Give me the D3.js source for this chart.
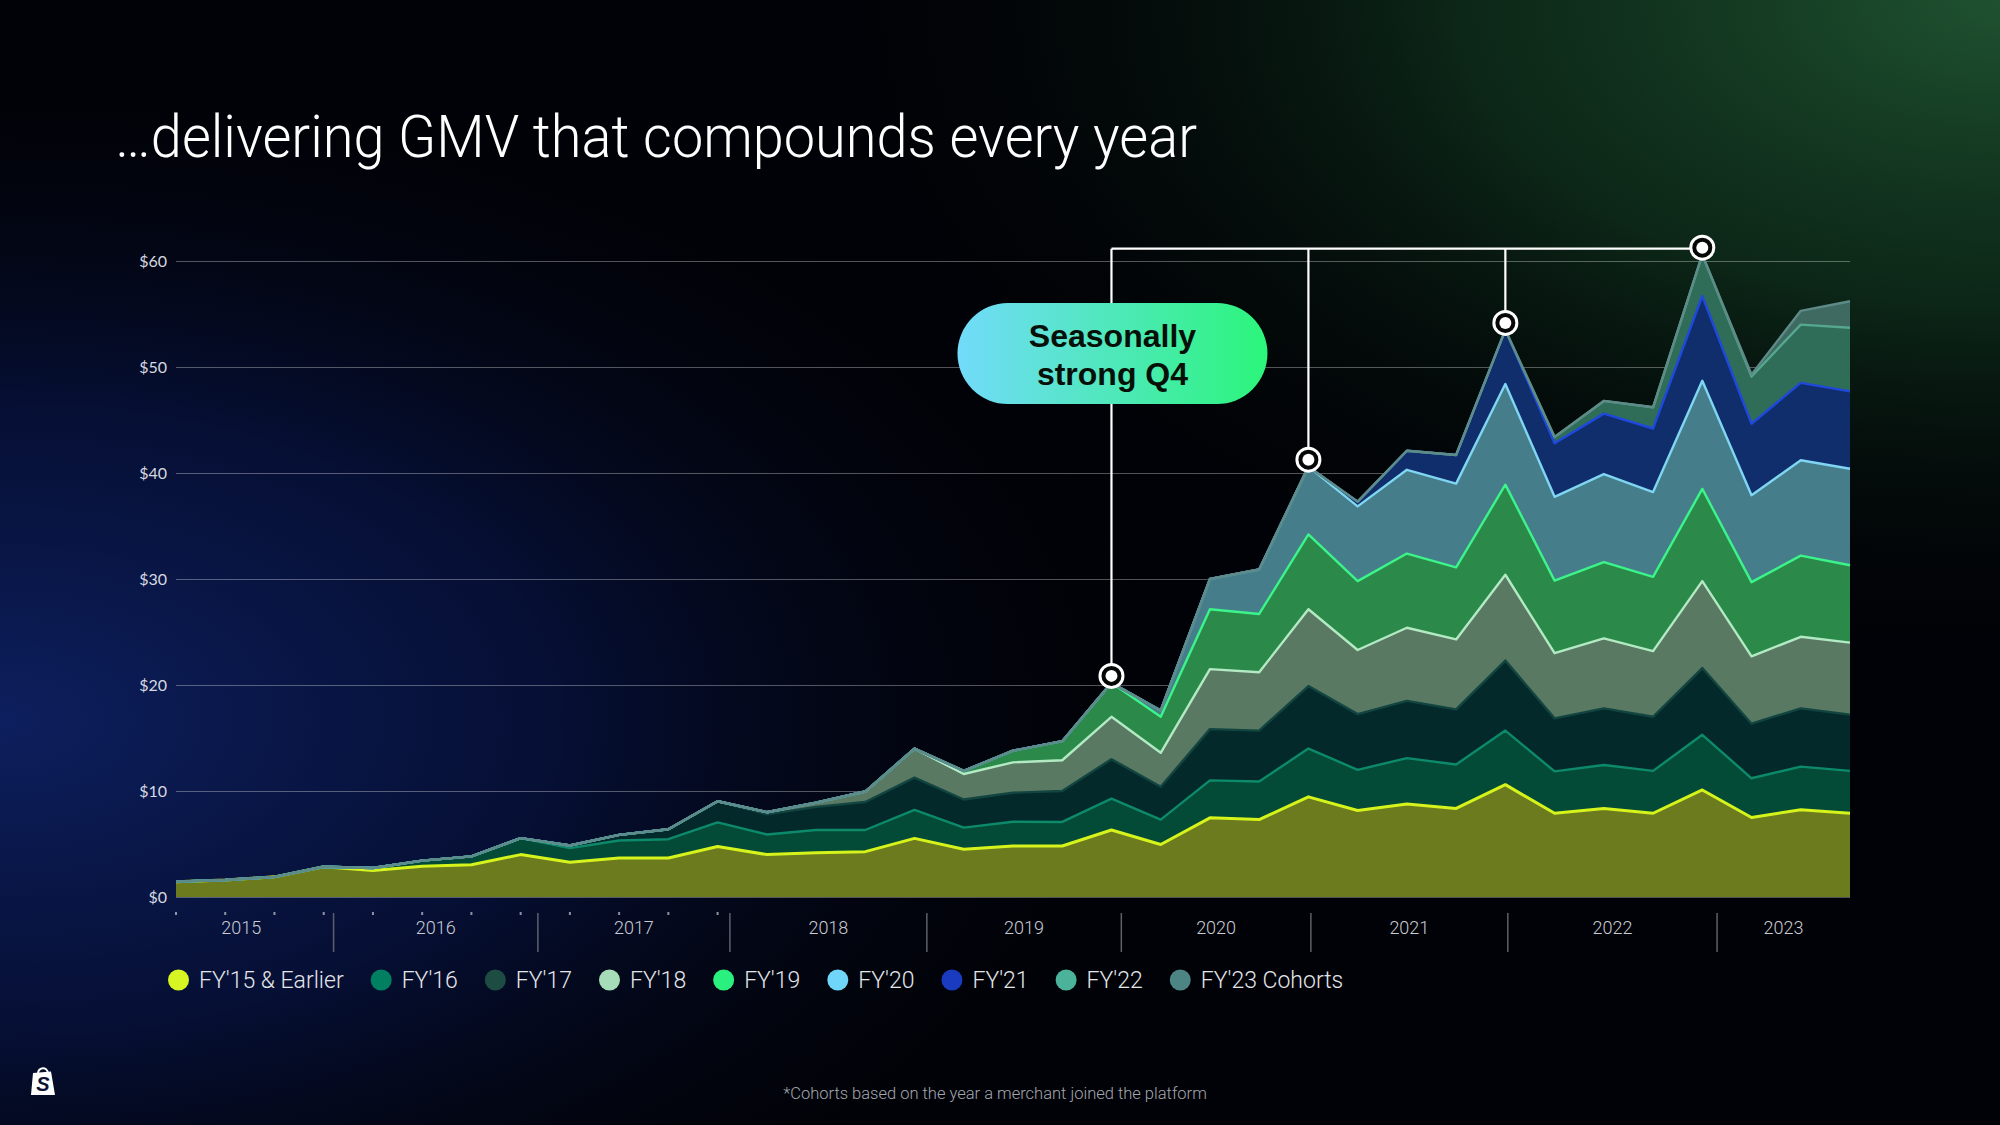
<!DOCTYPE html>
<html><head><meta charset="utf-8">
<script src="https://cdn.jsdelivr.net/npm/d3@7"></script>
<style>html,body{margin:0;padding:0;background:#000;}svg{display:block}</style>
</head><body>
<svg id="c" width="2000" height="1125"></svg>
<script>
// ---------- DATA ----------
const quarters = ["Q1 2015","Q2 2015","Q3 2015","Q4 2015","Q1 2016","Q2 2016","Q3 2016","Q4 2016",
  "Q1 2017","Q2 2017","Q3 2017","Q4 2017","Q1 2018","Q2 2018","Q3 2018","Q4 2018",
  "Q1 2019","Q2 2019","Q3 2019","Q4 2019","Q1 2020","Q2 2020","Q3 2020","Q4 2020",
  "Q1 2021","Q2 2021","Q3 2021","Q4 2021","Q1 2022","Q2 2022","Q3 2022","Q4 2022",
  "Q1 2023","Q2 2023","Q3 2023"];
const seriesNames = ["FY'15 & Earlier","FY'16","FY'17","FY'18","FY'19","FY'20","FY'21","FY'22","FY'23 Cohorts"];
const fy15 = [1.45,1.60,1.90,2.85,2.50,2.90,3.05,4.00,3.27,3.68,3.68,4.77,4.00,4.18,4.28,5.53,4.50,4.81,4.81,6.32,4.95,7.47,7.30,9.45,8.16,8.77,8.36,10.6,7.90,8.36,7.90,10.1,7.50,8.24,7.90];
const fy16 = [0,0,0,0,0.24,0.53,0.78,1.55,1.34,1.65,1.77,2.27,1.90,2.14,2.04,2.68,2.04,2.29,2.27,2.96,2.35,3.53,3.60,4.55,3.84,4.33,4.14,5.10,3.95,4.09,4.00,5.20,3.70,4.06,4.00];
const fy17 = [0,0,0,0,0,0,0,0,0.25,0.53,0.94,1.99,1.90,2.18,2.64,3.05,2.66,2.74,2.92,3.72,3.10,4.84,4.80,5.90,5.25,5.40,5.20,6.60,5.00,5.35,5.10,6.30,5.15,5.50,5.30];
const fy18 = [0,0,0,0,0,0,0,0,0,0,0,0,0.20,0.40,0.99,2.74,2.40,2.86,2.90,4.00,3.20,5.66,5.50,7.25,6.05,6.90,6.60,8.10,6.15,6.60,6.20,8.20,6.35,6.75,6.80];
const fy19 = [0,0,0,0,0,0,0,0,0,0,0,0,0,0,0,0,0.30,1.10,1.80,3.20,3.40,5.65,5.50,7.05,6.50,7.00,6.80,8.50,6.85,7.20,7.00,8.70,7.00,7.65,7.30];
const fy20 = [0,0,0,0,0,0,0,0,0,0,0,0,0,0,0,0,0,0,0,0,0.60,2.85,4.20,6.40,7.05,7.90,7.90,9.50,7.90,8.30,8.00,10.2,8.20,9.00,9.10];
const fy21 = [0,0,0,0,0,0,0,0,0,0,0,0,0,0,0,0,0,0,0,0,0,0,0,0,0.45,1.80,2.70,5.10,5.05,5.70,6.00,8.00,6.75,7.30,7.30];
const fy22 = [0,0,0,0,0,0,0,0,0,0,0,0,0,0,0,0,0,0,0,0,0,0,0,0,0,0,0,0,0.60,1.20,2.00,3.90,4.45,5.50,6.00];
const fy23 = [0,0,0,0,0,0,0,0,0,0,0,0,0,0,0,0,0,0,0,0,0,0,0,0,0,0,0,0,0,0,0,0,0.20,1.30,2.50];
const yTicks = [0,10,20,30,40,50,60];
const years = ["2015","2016","2017","2018","2019","2020","2021","2022","2023"];
// year boundaries, in quarter-index units along the axis
const yearBounds = [-0.55,3.2,7.35,11.25,15.25,19.2,23.05,27.05,31.3,34];
const peakQuarters = ["Q4 2019","Q4 2020","Q4 2021","Q4 2022"];
const calloutLines = ["Seasonally","strong Q4"];
const titleText = "\u2026delivering GMV that compounds every year";
const footnoteText = "*Cohorts based on the year a merchant joined the platform";

// ---------- STYLES ----------
const fills   = ["#6b7b1e","#034b36","#03292a","#597963","#2b8a4a","#457e8a","#102d6c","#2f6d58","#3f6a61"];
const strokes = ["#d6f41c","#0c8a6a","#134540","#b3eac4","#3cf48a","#7fd5f2","#1f48dc","#55a78f","#5e8a87"];
const dots    = ["#d7f523","#008060","#1d4d42","#a6dcb8","#29f07e","#6fd6fa","#1a3bbf","#4ab39a","#4d8585"];

const W = 2000, H = 1125;
const svg = d3.select("#c");
const defs = svg.append("defs");

// background
function radial(id, cx, cy, r, stops){
  const g = defs.append("radialGradient").attr("id",id).attr("cx",cx).attr("cy",cy).attr("r",r);
  stops.forEach(s=>g.append("stop").attr("offset",s[0]).attr("stop-color",s[1]).attr("stop-opacity",s[2]));
}
radial("blueGlow",0,0.64,0.62,[[0,"#0d1f5e",1],[0.45,"#081548",0.7],[1,"#000",0]]);
radial("greenGlow",1,0,0.6,[[0,"#1f5230",1],[0.45,"#123a20",0.65],[1,"#000",0]]);
svg.append("rect").attr("width",W).attr("height",H).attr("fill","#010207");
svg.append("rect").attr("width",W).attr("height",H).attr("fill","url(#blueGlow)");
svg.append("rect").attr("width",W).attr("height",H).attr("fill","url(#greenGlow)");

// title
svg.append("text").attr("x",115).attr("y",157).text(titleText)
  .attr("fill","#fff").attr("font-family","Roboto, 'Liberation Sans', sans-serif")
  .attr("font-weight",300).attr("font-size",59)
  .attr("textLength",1082).attr("lengthAdjust","spacingAndGlyphs");

// scales
const x = d3.scalePoint().domain(quarters).range([176,1850]);
const xi = d3.scaleLinear().domain([0,quarters.length-1]).range(x.range());
const y = d3.scaleLinear().domain([0,60]).range([897,261]);

// gridlines + y labels
const yAxis = d3.axisLeft(y).tickValues(yTicks).tickFormat(d=>"$"+d)
  .tickSizeInner(-(1850-176)).tickSizeOuter(0).tickPadding(9);
const ya = svg.append("g").attr("transform","translate(176,0)").call(yAxis);
ya.select(".domain").remove();
ya.selectAll(".tick line").attr("stroke","rgba(255,255,255,0.32)").attr("stroke-width",1);
ya.selectAll(".tick text").attr("fill","#d6d9e0").attr("font-family","Lato, 'Open Sans', sans-serif")
  .attr("font-size",16).attr("x",-9);

// stacked data
const table = quarters.map((q,i)=>{
  const row = {q};
  [fy15,fy16,fy17,fy18,fy19,fy20,fy21,fy22,fy23].forEach((arr,k)=>row[seriesNames[k]]=arr[i]);
  return row;
});
const stacked = d3.stack().keys(seriesNames)(table);
const area = d3.area().x(d=>x(d.data.q)).y0(d=>y(d[0])).y1(d=>y(d[1]));
const line = d3.line().x(d=>x(d.data.q)).y(d=>y(d[1]));

const gA = svg.append("g");
gA.selectAll("path").data(stacked).join("path").attr("d",area).attr("fill",(d,i)=>fills[i]);
const gL = svg.append("g");
gL.selectAll("path").data(stacked).join("path").attr("d",line).attr("fill","none")
  .attr("stroke",(d,i)=>strokes[i]).attr("stroke-width",(d,i)=>i===0?3:2.4)
  .attr("stroke-linejoin","round");

// x axis: quarter ticks (first three years), year separators and labels
svg.append("g").selectAll("line").data(quarters.slice(0,12)).join("line")
  .attr("x1",d=>x(d)).attr("x2",d=>x(d)).attr("y1",912).attr("y2",915)
  .attr("stroke","rgba(255,255,255,0.55)").attr("stroke-width",2);
svg.append("g").selectAll("line").data(yearBounds.slice(1,-1)).join("line")
  .attr("x1",d=>xi(d)).attr("x2",d=>xi(d)).attr("y1",913).attr("y2",952)
  .attr("stroke","#5c616a").attr("stroke-width",1.5);
svg.append("g").selectAll("text").data(years).join("text")
  .attr("x",(d,i)=>xi((yearBounds[i]+yearBounds[i+1])/2)).attr("y",934)
  .attr("text-anchor","middle").text(d=>d)
  .attr("fill","#c9ccd3").attr("font-family","Roboto, 'Liberation Sans', sans-serif")
  .attr("font-weight",300).attr("font-size",18);

// legend
const lg = svg.append("g").attr("transform","translate(0,980)");
let lx = 168;
seriesNames.forEach((name,i)=>{
  lg.append("circle").attr("cx",lx+10.5).attr("cy",0).attr("r",10.5).attr("fill",dots[i]);
  const t = lg.append("text").attr("x",lx+31).attr("y",8).text(name)
    .attr("fill","#e4e6ea").attr("font-family","Roboto, 'Liberation Sans', sans-serif")
    .attr("font-weight",300).attr("font-size",23);
  lx = lx + 31 + t.node().getComputedTextLength() + 27;
});

// annotation
const totals = quarters.map((q,i)=>stacked[stacked.length-1][i][1]);
const peaks = peakQuarters.map(q=>({x:x(q), cy:y(totals[quarters.indexOf(q)])-7}));
const lineY = d3.min(peaks,p=>p.cy)+1;
const ann = svg.append("g");
ann.append("line").attr("x1",peaks[0].x).attr("x2",peaks[peaks.length-1].x)
  .attr("y1",lineY).attr("y2",lineY).attr("stroke","#fff").attr("stroke-width",2.2);
ann.selectAll("line.v").data(peaks).join("line").attr("class","v")
  .attr("x1",d=>d.x).attr("x2",d=>d.x).attr("y1",lineY).attr("y2",d=>d.cy-12)
  .attr("stroke","#fff").attr("stroke-width",2.2);
ann.selectAll("circle.o").data(peaks).join("circle").attr("class","o")
  .attr("cx",d=>d.x).attr("cy",d=>d.cy).attr("r",11.5)
  .attr("fill","#050807").attr("stroke","#fff").attr("stroke-width",3);
ann.selectAll("circle.i").data(peaks).join("circle").attr("class","i")
  .attr("cx",d=>d.x).attr("cy",d=>d.cy).attr("r",6).attr("fill","#fff");

// callout pill
const pg = defs.append("linearGradient").attr("id","pill").attr("x1",0).attr("x2",1).attr("y1",0).attr("y2",0);
pg.append("stop").attr("offset",0).attr("stop-color","#72dbfa");
pg.append("stop").attr("offset",1).attr("stop-color","#2bf57a");
const pcx = peaks[0].x;
svg.append("rect").attr("x",pcx-154).attr("y",303).attr("width",310).attr("height",101)
  .attr("rx",50.5).attr("fill","url(#pill)");
svg.append("g").selectAll("text").data(calloutLines).join("text")
  .attr("x",pcx+1).attr("y",(d,i)=>347+i*38).attr("text-anchor","middle").text(d=>d)
  .attr("fill","#061008").attr("font-family","'Liberation Sans', Arial, sans-serif")
  .attr("font-weight",700).attr("font-size",32);

// footnote
svg.append("text").attr("x",995).attr("y",1099).attr("text-anchor","middle").text(footnoteText)
  .attr("fill","#a3a7ae").attr("font-family","Roboto, 'Liberation Sans', sans-serif")
  .attr("font-weight",300).attr("font-size",16.5);

// logo (shopping bag)
const logo = svg.append("g").attr("transform","translate(30,1065)");
logo.append("path").attr("d","M8,9 C8,2 17,1 18,8").attr("fill","none").attr("stroke","#fff").attr("stroke-width",2);
logo.append("path").attr("d","M3,8 L21,6.5 L25,30 L1,30 Z").attr("fill","#fff");
logo.append("text").attr("x",13).attr("y",26).attr("text-anchor","middle").text("S")
  .attr("fill","#0a1236").attr("font-family","'Liberation Sans', Arial, sans-serif")
  .attr("font-weight",700).attr("font-style","italic").attr("font-size",20);
</script>
</body></html>
